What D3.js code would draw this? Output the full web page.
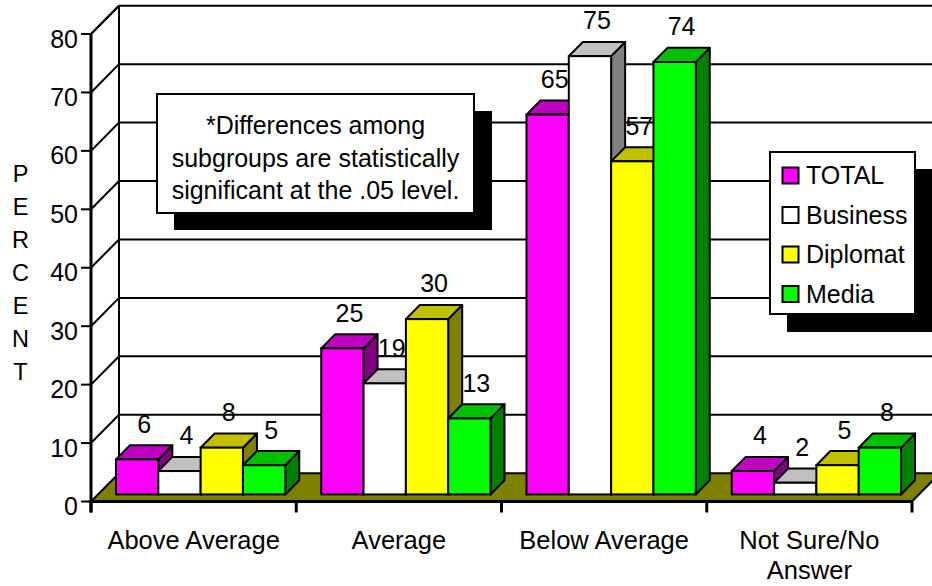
<!DOCTYPE html>
<html>
<head>
<meta charset="utf-8">
<script src="https://cdn.jsdelivr.net/npm/d3@7"></script>
<style>
  html, body { margin: 0; padding: 0; background: #fff; }
  svg { display: block; }
  text { font-family: "Liberation Sans", Arial, Helvetica, sans-serif; fill: #000; }
</style>
</head>
<body>
<svg id="chart" width="932" height="586"></svg>
<script>
// ---- data ----
const categories = ["Above Average", "Average", "Below Average", "Not Sure/No Answer"];
const categoryLines = [["Above Average"], ["Average"], ["Below Average"], ["Not Sure/No", "Answer"]];
const seriesNames = ["TOTAL", "Business", "Diplomat", "Media"];
const totalValues    = [6, 25, 65, 4];
const businessValues = [4, 19, 75, 2];
const diplomatValues = [8, 30, 57, 5];
const mediaValues    = [5, 13, 74, 8];
const yTicks = [0, 10, 20, 30, 40, 50, 60, 70, 80];
const axisTitle = "PERCENT";
const noteLines = ["*Differences among", "subgroups are statistically", "significant at the .05 level."];

const seriesValues = [totalValues, businessValues, diplomatValues, mediaValues];

// face colours per series: front, top, side
const faceColors = [
  { front: "#ff00ff", top: "#c000c0", side: "#800080" },
  { front: "#ffffff", top: "#c0c0c0", side: "#808080" },
  { front: "#ffff00", top: "#c0c000", side: "#808000" },
  { front: "#00ff00", top: "#00c000", side: "#008000" }
];

// ---- geometry ----
const svg = d3.select("#chart");
const X0 = 91, X1 = 912;          // front plane x extent
const DX = 28, DY = 28.3;         // full depth offset of the plot box
const y = d3.scaleLinear().domain([0, 80]).range([501.5, 34]);
const x = d3.scaleBand().domain(categories).range([X0, X1]).padding(0);
const xs = d3.scaleBand().domain(seriesNames).range([0, x.bandwidth()])
  .paddingInner(0).paddingOuter(0.425);

const ink = "#000";
const lw = 2;

// ---- walls and gridlines ----
const grid = svg.append("g");
yTicks.forEach(v => {
  if (v > 0) {
    // back wall line
    grid.append("line")
      .attr("x1", X0 + DX).attr("x2", X1 + DX + 40)
      .attr("y1", y(v) - DY).attr("y2", y(v) - DY)
      .attr("stroke", ink).attr("stroke-width", lw);
    // left wall diagonal
    grid.append("line")
      .attr("x1", X0).attr("y1", y(v))
      .attr("x2", X0 + DX).attr("y2", y(v) - DY)
      .attr("stroke", ink).attr("stroke-width", lw);
  }
});
// back-left vertical edge
grid.append("line")
  .attr("x1", X0 + DX).attr("x2", X0 + DX)
  .attr("y1", y(80) - DY).attr("y2", y(0) - DY)
  .attr("stroke", ink).attr("stroke-width", lw);

// ---- note box ----
const note = svg.append("g");
note.append("rect").attr("x", 174).attr("y", 111).attr("width", 318).attr("height", 119).attr("fill", "#000");
note.append("rect").attr("x", 157).attr("y", 94).attr("width", 317).attr("height", 119)
  .attr("fill", "#fff").attr("stroke", ink).attr("stroke-width", lw);
note.selectAll("text.note").data(noteLines).join("text")
  .attr("class", "note")
  .attr("x", 315.5)
  .attr("y", (d, i) => 134 + i * 32.5)
  .attr("text-anchor", "middle")
  .attr("font-size", 25)
  .text(d => d);

// ---- legend ----
const legend = svg.append("g");
legend.append("rect").attr("x", 787).attr("y", 169).attr("width", 150).attr("height", 163).attr("fill", "#000");
legend.append("rect").attr("x", 770).attr("y", 152).attr("width", 145).attr("height", 162)
  .attr("fill", "#fff").attr("stroke", ink).attr("stroke-width", lw);
seriesNames.forEach((name, i) => {
  const top = 167.5 + i * 39.5;
  legend.append("rect").attr("x", 782.5).attr("y", top).attr("width", 16).attr("height", 16)
    .attr("fill", faceColors[i].front).attr("stroke", ink).attr("stroke-width", lw);
  legend.append("text").attr("x", 806).attr("y", top + 16.5)
    .attr("font-size", 25).text(name);
});

// ---- floor ----
svg.append("polygon")
  .attr("points", [
    [X0, y(0)], [X1, y(0)], [X1 + DX, y(0) - DY], [X0 + DX, y(0) - DY]
  ].map(p => p.join(",")).join(" "))
  .attr("fill", "#808000").attr("stroke", ink).attr("stroke-width", lw)
  .attr("stroke-linejoin", "miter");
// thicker front edge of floor
svg.append("line").attr("x1", X0).attr("x2", X1).attr("y1", y(0)).attr("y2", y(0))
  .attr("stroke", ink).attr("stroke-width", 3);

// ---- bars (front of bar sits at 1/4 depth, bar depth is 1/2 depth) ----
const zf = 0.25, zd = 0.5;
const bars = svg.append("g");
categories.forEach((cat, ci) => {
  seriesNames.forEach((s, si) => {
    const v = seriesValues[si][ci];
    const w = xs.bandwidth();
    const xf = x(cat) + xs(s) + DX * zf;
    const yb = y(0) - DY * zf;
    const yt = y(v) - DY * zf;
    const ddx = DX * zd, ddy = DY * zd;
    const c = faceColors[si];
    const g = bars.append("g");
    g.append("polygon")
      .attr("points", [[xf + w, yt], [xf + w + ddx, yt - ddy], [xf + w + ddx, yb - ddy], [xf + w, yb]].map(p => p.join(",")).join(" "))
      .attr("fill", c.side).attr("stroke", ink).attr("stroke-width", lw).attr("stroke-linejoin", "round");
    g.append("polygon")
      .attr("points", [[xf, yt], [xf + w, yt], [xf + w + ddx, yt - ddy], [xf + ddx, yt - ddy]].map(p => p.join(",")).join(" "))
      .attr("fill", c.top).attr("stroke", ink).attr("stroke-width", lw).attr("stroke-linejoin", "round");
    g.append("rect")
      .attr("x", xf).attr("y", yt).attr("width", w).attr("height", yb - yt)
      .attr("fill", c.front).attr("stroke", ink).attr("stroke-width", lw);
    g.append("text")
      .attr("x", xf + w / 2 + ddx / 2)
      .attr("y", yt - ddy - 12.5)
      .attr("text-anchor", "middle")
      .attr("font-size", 25)
      .text(v);
  });
});

// ---- y axis ----
const yAxis = svg.append("g");
yAxis.append("line").attr("x1", X0).attr("x2", X0).attr("y1", y(80)).attr("y2", y(0) + 11)
  .attr("stroke", ink).attr("stroke-width", 3);
yTicks.forEach(v => {
  yAxis.append("line").attr("x1", X0 - 10).attr("x2", X0).attr("y1", y(v)).attr("y2", y(v))
    .attr("stroke", ink).attr("stroke-width", lw);
  yAxis.append("text").attr("x", 78).attr("y", y(v) + 13.5)
    .attr("text-anchor", "end").attr("font-size", 25).text(v);
});
// top-left diagonal of box
yAxis.append("line").attr("x1", X0).attr("y1", y(80)).attr("x2", X0 + DX).attr("y2", y(80) - DY)
  .attr("stroke", ink).attr("stroke-width", lw);

// ---- x axis ticks and labels ----
const xAxis = svg.append("g");
const bounds = categories.map(c => x(c)).concat([X1]);
bounds.forEach(bx => {
  xAxis.append("line").attr("x1", bx).attr("x2", bx).attr("y1", y(0)).attr("y2", y(0) + 11)
    .attr("stroke", ink).attr("stroke-width", 3);
});
categories.forEach((cat, ci) => {
  const t = xAxis.append("text")
    .attr("x", x(cat) + x.bandwidth() / 2)
    .attr("y", 548.5)
    .attr("text-anchor", "middle")
    .attr("font-size", 25.5);
  categoryLines[ci].forEach((line, li) => {
    t.append("tspan").attr("x", x(cat) + x.bandwidth() / 2).attr("dy", li === 0 ? 0 : 30.5).text(line);
  });
});

// ---- axis title, stacked letters ----
svg.append("g").selectAll("text").data(axisTitle.split("")).join("text")
  .attr("x", 20.5)
  .attr("y", (d, i) => 182 + i * 33)
  .attr("text-anchor", "middle")
  .attr("font-size", 23.5)
  .text(d => d);
</script>
</body>
</html>
